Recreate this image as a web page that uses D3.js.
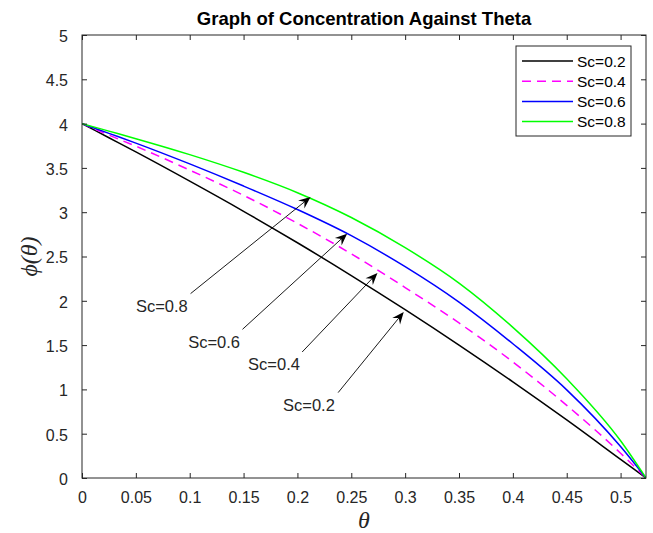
<!DOCTYPE html>
<html>
<head>
<meta charset="utf-8">
<script src="https://cdn.jsdelivr.net/npm/d3@7"></script>
<style>
  body { margin: 0; background: #fff; }
  svg { display: block; }
</style>
</head>
<body>
<svg id="chart" width="653" height="533"></svg>
<script>
// values
var theta = [0, 0.025, 0.05, 0.1, 0.15, 0.2, 0.25, 0.3, 0.35, 0.4, 0.45, 0.5, 0.5236];
var sc02 = [4.00, 3.84, 3.68, 3.35, 3.01, 2.655, 2.285, 1.90, 1.50, 1.085, 0.655, 0.21, 0];
var sc04 = [4.00, 3.87, 3.745, 3.475, 3.19, 2.875, 2.53, 2.15, 1.75, 1.31, 0.82, 0.28, 0];
var sc06 = [4.00, 3.89, 3.78, 3.545, 3.295, 3.03, 2.735, 2.385, 1.985, 1.515, 0.995, 0.355, 0];
var sc08 = [4.00, 3.915, 3.83, 3.65, 3.45, 3.22, 2.94, 2.60, 2.20, 1.70, 1.12, 0.42, 0];

var seriesNames = ["Sc=0.2", "Sc=0.4", "Sc=0.6", "Sc=0.8"];
var seriesColors = ["#000000", "#ff00ff", "#0000ff", "#00ff00"];
var seriesDash = [null, "9,6", null, null];

var xTicks = [0, 0.05, 0.1, 0.15, 0.2, 0.25, 0.3, 0.35, 0.4, 0.45, 0.5];
var yTicks = [0, 0.5, 1, 1.5, 2, 2.5, 3, 3.5, 4, 4.5, 5];

// arrow annotations (theta, phi)
var arrowLabels = ["Sc=0.8", "Sc=0.6", "Sc=0.4", "Sc=0.2"];
var arrowTail = [[0.1008, 2.081], [0.149, 1.678], [0.2044, 1.422], [0.2378, 0.964]];
var arrowHead = [[0.2122, 3.172], [0.2461, 2.758], [0.2743, 2.314], [0.2987, 1.874]];
var labelAt = [[0.0501, 1.870], [0.0986, 1.472], [0.1542, 1.223], [0.1866, 0.756]];

var axisColor = "#262626";
var font = "'Liberation Sans', Arial, sans-serif";

var svg = d3.select("#chart");
var plotL = 82, plotR = 646, plotT = 35, plotB = 478;

var x = d3.scaleLinear().domain([0, 0.5236]).range([plotL, plotR]);
var y = d3.scaleLinear().domain([0, 5]).range([plotB, plotT]);

svg.append("rect").attr("width", 653).attr("height", 533).attr("fill", "#fff");

// curves
var allSeries = [sc02, sc04, sc06, sc08];
var line = d3.line()
  .x(function(d){ return x(d[0]); })
  .y(function(d){ return y(d[1]); })
  .curve(d3.curveMonotoneX);

svg.append("defs").append("clipPath").attr("id", "plotclip")
  .append("rect").attr("x", plotL).attr("y", plotT)
  .attr("width", plotR - plotL).attr("height", plotB - plotT);

svg.append("g").attr("clip-path", "url(#plotclip)")
  .selectAll(".curve")
  .data(allSeries)
  .enter()
  .append("path")
  .attr("class", "curve")
  .attr("d", function(s){ return line(d3.zip(theta, s)); })
  .attr("fill", "none")
  .attr("stroke", function(s, i){ return seriesColors[i]; })
  .attr("stroke-width", 1.5)
  .attr("stroke-dasharray", function(s, i){ return seriesDash[i]; });

// axes, MATLAB style box with inward ticks
function styleAxis(dy) {
  return function(g) {
    g.select(".domain").remove();
    g.selectAll(".tick line").attr("stroke", axisColor);
    g.selectAll(".tick text").attr("fill", axisColor).attr("dy", dy)
      .style("font-family", font).style("font-size", "16px");
  };
}

svg.append("g").attr("transform", "translate(0," + plotB + ")")
  .call(d3.axisBottom(x).tickValues(xTicks).tickSize(-5).tickPadding(14)
    .tickFormat(d3.format("")))
  .call(styleAxis("0.71em"));
svg.append("g").attr("transform", "translate(0," + plotT + ")")
  .call(d3.axisTop(x).tickValues(xTicks).tickSize(-5).tickFormat(""))
  .call(styleAxis(null));
svg.append("g").attr("transform", "translate(" + plotL + ",0)")
  .call(d3.axisLeft(y).tickValues(yTicks).tickSize(-5).tickPadding(14)
    .tickFormat(d3.format("")))
  .call(styleAxis("0.40em"));
svg.append("g").attr("transform", "translate(" + plotR + ",0)")
  .call(d3.axisRight(y).tickValues(yTicks).tickSize(-5).tickFormat(""))
  .call(styleAxis(null));

svg.append("rect")
  .attr("x", plotL).attr("y", plotT)
  .attr("width", plotR - plotL).attr("height", plotB - plotT)
  .attr("fill", "none").attr("stroke", axisColor).attr("stroke-width", 1);

// title and labels
svg.append("text")
  .attr("x", (plotL + plotR) / 2).attr("y", 25)
  .attr("text-anchor", "middle")
  .style("font-family", font).style("font-weight", "bold").style("font-size", "18.5px")
  .attr("fill", "#000")
  .text("Graph of Concentration Against Theta");

svg.append("text")
  .attr("x", (plotL + plotR) / 2).attr("y", 528)
  .attr("text-anchor", "middle")
  .style("font-family", "'Liberation Serif', 'Times New Roman', serif")
  .style("font-style", "italic").style("font-size", "24px")
  .attr("fill", axisColor)
  .text("θ");

svg.append("text")
  .attr("transform", "translate(37," + ((plotT + plotB) / 2) + ") rotate(-90)")
  .attr("text-anchor", "middle")
  .style("font-family", "'Liberation Serif', 'Times New Roman', serif")
  .style("font-style", "italic").style("font-size", "24px")
  .attr("fill", axisColor)
  .text("ϕ(θ)");

// arrows
var arrows = svg.append("g");
arrowLabels.forEach(function(lbl, i){
  var x0 = x(arrowTail[i][0]), y0 = y(arrowTail[i][1]);
  var x1 = x(arrowHead[i][0]), y1 = y(arrowHead[i][1]);
  var ang = Math.atan2(y1 - y0, x1 - x0);
  var L = 12, W = 10;
  arrows.append("line")
    .attr("x1", x0).attr("y1", y0)
    .attr("x2", x1 - Math.cos(ang) * L * 0.6).attr("y2", y1 - Math.sin(ang) * L * 0.6)
    .attr("stroke", "#000").attr("stroke-width", 0.9);
  var pts = [[0, 0], [-L, -W / 2], [-L * 0.65, 0], [-L, W / 2]];
  arrows.append("path")
    .attr("d", "M" + pts.map(function(p){ return p.join(","); }).join("L") + "Z")
    .attr("transform", "translate(" + x1 + "," + y1 + ") rotate(" + (ang * 180 / Math.PI) + ")")
    .attr("fill", "#000");
  arrows.append("text")
    .attr("x", x(labelAt[i][0])).attr("y", y(labelAt[i][1]))
    .style("font-family", font).style("font-size", "16.5px")
    .attr("fill", "#262626")
    .text(lbl);
});

// legend
var lg = svg.append("g").attr("transform", "translate(516,46)");
lg.append("rect").attr("width", 115).attr("height", 90)
  .attr("fill", "#fff").attr("stroke", axisColor).attr("stroke-width", 1);
var rows = lg.selectAll(".row").data(seriesNames).enter().append("g")
  .attr("transform", function(d, i){ return "translate(0," + (15 + i * 20.2) + ")"; });
rows.append("line")
  .attr("x1", 6).attr("x2", 57)
  .attr("stroke", function(d, i){ return seriesColors[i]; })
  .attr("stroke-width", 1.5)
  .attr("stroke-dasharray", function(d, i){ return seriesDash[i]; });
rows.append("text")
  .attr("x", 61).attr("dy", "0.36em")
  .style("font-family", font).style("font-size", "15.5px")
  .attr("fill", "#000")
  .text(function(d){ return d; });
</script>
</body>
</html>
